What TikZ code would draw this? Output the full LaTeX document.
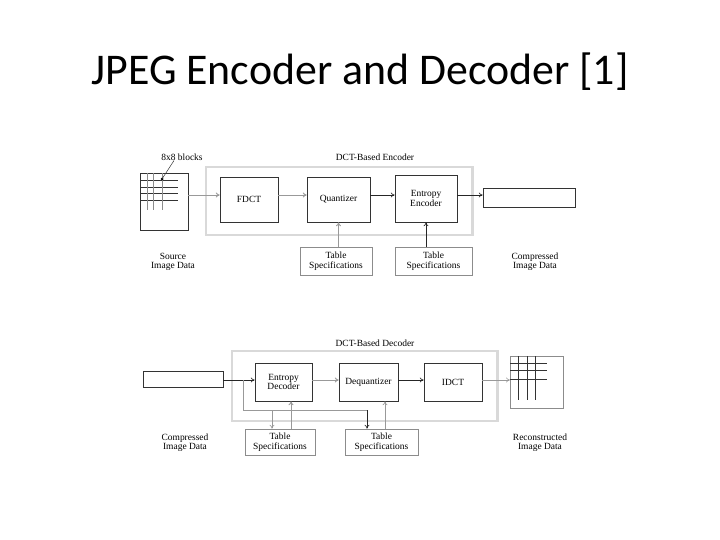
\documentclass[tikz,border=0pt]{standalone}
\usepackage{fontspec}
\setmainfont{Liberation Serif}
\newfontfamily\titlefont{Carlito}
\usetikzlibrary{arrows.meta}
\begin{document}
\begin{tikzpicture}[x=1bp,y=-1bp,
  blk/.style={draw=black!80,line width=0.6pt,fill=white},
  tbl/.style={draw=black!45,line width=0.6pt},
  frame/.style={draw=black!15,line width=3pt},
  lab/.style={font=\fontsize{9.5}{9.5}\selectfont,align=center,inner sep=0pt},
  ar/.style={-{To[length=4pt,width=5pt]},line width=0.6pt,draw=black!85},
  ga/.style={-{To[length=4pt,width=5pt]},line width=0.9pt,draw=black!40}]
\useasboundingbox (0,0) rectangle (720,540);
\node[font=\titlefont\fontsize{44}{48}\selectfont] (title) at (360,72) {JPEG Encoder and Decoder [1]};
% Encoder
\draw[frame] (206,167) rectangle (472,235);
\node[lab] (enct) at (375,157) {DCT-Based Encoder};
\draw[blk] (140,173) rectangle (188,230);
\node[inner sep=0pt] (src) at (164,201.5) {};
\coordinate (srcE) at (188,195);
\foreach \y in {180,187,193,200} \draw[black!80,line width=0.5pt] (140,\y) -- (178,\y);
\foreach \x in {147,153,162} \draw[black!45,line width=0.5pt] (\x,173) -- (\x,210);
\node[lab] (blocks) at (182,157) {8x8 blocks};
\coordinate (dot) at (162,179);
\fill[black] (dot) circle (1.5);
\draw[black!80,line width=0.5pt] (blocks.south) ++(-8,0) -- (dot);
\node[blk,minimum width=58bp,minimum height=45bp,lab] (fdct) at (249,199.5) {FDCT};
\node[blk,minimum width=63bp,minimum height=45bp,lab] (quant) at (338.5,199.5) {Quantizer};
\node[blk,minimum width=62bp,minimum height=47bp,lab] (ee) at (426,198.5) {Entropy\\Encoder};
\node[blk,minimum width=92bp,minimum height=19bp] (cout) at (529,197.5) {};
\draw[ga] (srcE) -- (fdct.west |- srcE);
\draw[ga] (fdct.east |- srcE) -- (quant.west |- srcE);
\draw[ar] (quant.east |- srcE) -- (ee.west |- srcE);
\draw[ar] (ee.east |- srcE) -- (cout.west |- srcE);
\node[tbl,lab,minimum width=72bp,minimum height=28bp] (t1) at (336,261) {Table\\Specifications};
\node[tbl,lab,minimum width=77bp,minimum height=28bp] (t2) at (433.5,261) {Table\\Specifications};
\draw[ga] (t1.north -| quant) -- (quant.south);
\draw[ar] (t2.north -| ee) -- (ee.south);
\node[lab] (srcl) at (173,262) {Source\\Image Data};
\node[lab] (cl) at (535,262) {Compressed\\Image Data};
% Decoder
\draw[frame] (232,351) rectangle (497,421);
\node[lab] (dect) at (375,343) {DCT-Based Decoder};
\node[blk,minimum width=80bp,minimum height=16bp] (cin) at (183,379) {};
\node[blk,lab,minimum width=57bp,minimum height=38bp] (ed) at (283.5,382) {Entropy\\Decoder};
\node[blk,lab,minimum width=59bp,minimum height=38bp] (deq) at (368.5,382) {Dequantizer};
\node[blk,lab,minimum width=58bp,minimum height=38bp] (idct) at (453,382) {IDCT};
\draw[draw=black!45,line width=0.6pt,fill=white] (510,356) rectangle (563,408);
\node[inner sep=0pt] (rec) at (536.5,382) {};
\foreach \y in {363,370,379} \draw[black!80,line width=0.5pt] (510,\y) -- (547,\y);
\foreach \x in {518,527,535} \draw[black!80,line width=0.5pt] (\x,356) -- (\x,400);
\coordinate (dy) at (0,380);
\draw[ar] (cin.east |- dy) -- (ed.west |- dy);
\draw[ga] (ed.east |- dy) -- (deq.west |- dy);
\draw[ar] (deq.east |- dy) -- (idct.west |- dy);
\draw[ga,line width=0.6pt] (idct.east |- dy) -- (510,380);
\node[tbl,lab,minimum width=70bp,minimum height=26bp] (t3) at (280,442) {Table\\Specifications};
\node[tbl,lab,minimum width=73bp,minimum height=26bp] (t4) at (381.5,442) {Table\\Specifications};
\coordinate (br) at (243,380);
\coordinate (b1) at (272,410);
\coordinate (b2) at (367,410);
\draw[black!40,line width=0.6pt] (br) -- (243,410) -- (b2);
\draw[ga,line width=0.6pt] (b1) -- (b1 |- t3.north);
\draw[ar] (b2) -- (b2 |- t4.north);
\draw[ga] (291,429) -- (ed.south -| 291,0);
\draw[ga,line width=0.6pt] (385,429) -- (deq.south -| 385,0);
\node[lab] (cil) at (185,443) {Compressed\\Image Data};
\node[lab] (rl) at (540,443) {Reconstructed\\Image Data};
\end{tikzpicture}
\end{document}
